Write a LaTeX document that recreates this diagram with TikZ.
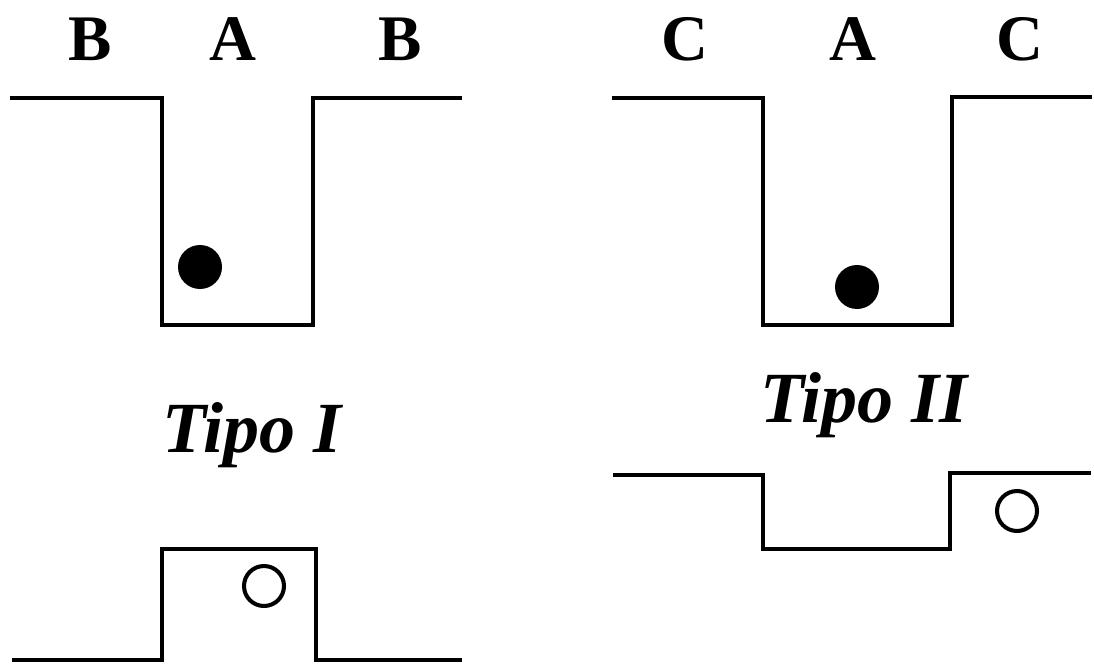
\documentclass[tikz,border=0pt]{standalone}
\usepackage{fontspec}
\setmainfont{Liberation Serif}
\usetikzlibrary{backgrounds}

\tikzset{
    well/.style={line width=2.3pt, line join=miter},
    label/.style={font=\fontsize{37}{44}\selectfont\bfseries, anchor=base},
    tipo/.style={font=\fontsize{41}{48}\selectfont\bfseries\itshape, anchor=base},
    filled/.style={fill=black},
    empty/.style={line width=2.3pt}
}

\begin{document}
\begin{tikzpicture}[x=0.02cm, y=-0.02cm]
    \useasboundingbox (0, 0) rectangle (1094, 665);

    % Tipo I
    \node[label] (b1) at (90, 61) {B};
    \node[label] (a1) at (233, 61) {A};
    \node[label] (b2) at (400, 61) {B};
    \draw[well] (10, 98) -- (162, 98) -- (162, 325) -- (313, 325) -- (313, 98) -- (462, 98);
    \fill[filled] (200, 267) circle (22);
    \node[tipo] (tipo1) at (252, 452) {Tipo I};
    \draw[well] (12, 660) -- (162, 660) -- (162, 549) -- (316, 549) -- (316, 660) -- (462, 660);
    \draw[empty] (264, 586) circle (20);

    % Tipo II
    \node[label] (c1) at (685, 61) {C};
    \node[label] (a2) at (853, 61) {A};
    \node[label] (c2) at (1020, 61) {C};
    \draw[well] (612, 98) -- (763, 98) -- (763, 325) -- (952, 325) -- (952, 97) -- (1092, 97);
    \fill[filled] (857, 287) circle (22);
    \node[tipo] (tipo2) at (864, 422) {Tipo II};
    \draw[well] (613, 475) -- (763, 475) -- (763, 549) -- (950, 549) -- (950, 473) -- (1091, 473);
    \draw[empty] (1017, 511) circle (20);

\end{tikzpicture}
\end{document}
